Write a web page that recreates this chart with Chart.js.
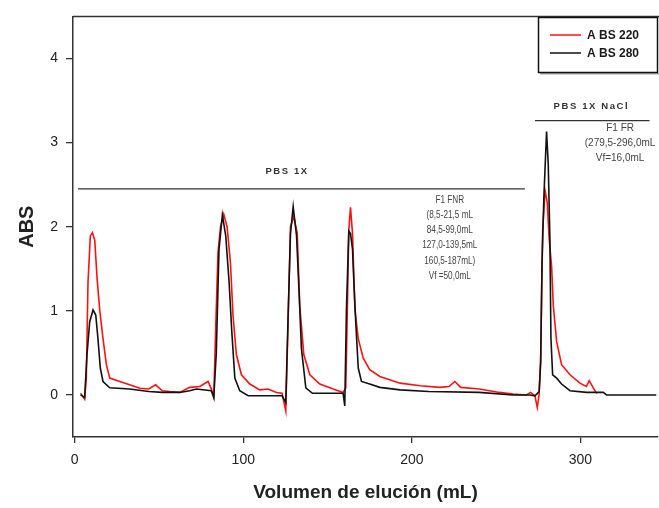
<!DOCTYPE html>
<html>
<head>
<meta charset="utf-8">
<script src="https://cdn.jsdelivr.net/npm/chart.js@4"></script>
<style>
    html, body { margin: 0; padding: 0; background: #fff; }
    #wrap { width: 659px; height: 508px; }
</style>
</head>
<body>
<div id="wrap"><canvas id="chromChart" width="659" height="508"></canvas></div>
<script>
// elution volume (mL) and absorbance
const volume220 = [3.5, 5.9, 6.9, 7.9, 9.3, 10.5, 11.9, 13.3, 14.8, 16.8, 18.8, 20.8, 26.7, 32.6, 38.6, 44, 48, 52, 56.4, 62.3, 68.2, 74.2, 79.1, 81.1, 82.5,
    83.7, 85, 86.5, 88.4, 90.4, 92.4, 93.9, 95.9, 98.9, 103.9, 109.8, 114.7, 119.7, 123, 125.2, 126.6, 128, 130, 132, 133.5, 135.9, 139.5, 145.4, 153.3,
    159.2, 160.8, 161.6, 162.6, 163.6, 164.8, 166.2, 168.2, 171.1, 175, 181, 193, 205, 216.6, 222, 225.5, 229, 240, 252, 260, 268, 270.4, 273, 274.4,
    275.5, 276.4, 277, 277.6, 279, 280.3, 281.5, 282.9, 283.9, 285.9, 288.8, 293.8, 299.7, 303.5, 305.2, 307.6, 309.2, 310];
const abs220 = [0.02, -0.05, 0.2, 1.34, 1.89, 1.93, 1.84, 1.38, 1.02, 0.67, 0.36, 0.2, 0.16, 0.12, 0.08, 0.07, 0.12, 0.05, 0.04, 0.03, 0.09, 0.1, 0.16, 0.07, -0.03,
    0.83, 1.69, 2.0, 2.15, 2.0, 1.57, 0.95, 0.48, 0.24, 0.13, 0.06, 0.07, 0.03, 0.02, -0.19, 0.87, 2.0, 2.12, 1.92, 1.06, 0.48, 0.24, 0.13, 0.07,
    0.03, 0.085, 0.87, 1.96, 2.23, 1.92, 1.02, 0.67, 0.44, 0.3, 0.22, 0.14, 0.11, 0.09, 0.1, 0.16, 0.09, 0.07, 0.03, 0.01, 0.0, 0.03, -0.01, -0.15,
    0.01, 0.4, 1.22, 1.96, 2.43, 2.29, 1.84, 1.53, 1.06, 0.63, 0.36, 0.24, 0.14, 0.1, 0.17, 0.085, 0.03, 0.02];

const volume280 = [3.5, 5.9, 7.3, 8.9, 10.9, 12.5, 13.8, 15.2, 16.8, 20.8, 32.6, 44, 52, 62.3, 68.2, 72.2, 81, 82.5, 84, 85.6, 87.6, 89.6, 91.6, 93.2, 95,
    97.9, 102.9, 123, 125.2, 126.6, 128, 129.6, 131.6, 133.1, 134.5, 137.1, 141, 159.2, 160.2, 161.2, 162.6, 163.6, 164.8, 165.6, 166.8, 168.2, 170.1,
    175, 181, 193, 210, 240, 260, 270, 273, 275.5, 276.4, 277.2, 278.3, 279.9, 280.9, 281.9, 282.5, 283.5, 285.9, 288.8, 293.8, 303.7, 313.5, 315.5, 345];
const abs280 = [0.0, -0.03, 0.48, 0.87, 1.01, 0.95, 0.67, 0.32, 0.16, 0.085, 0.07, 0.04, 0.03, 0.03, 0.05, 0.07, 0.05, -0.03, 0.5, 1.73, 2.14, 1.89, 1.34, 0.75, 0.2,
    0.05, -0.01, -0.01, -0.09, 0.95, 1.92, 2.24, 1.89, 1.22, 0.55, 0.085, 0.02, 0.02, -0.13, 1.02, 1.95, 1.92, 1.73, 1.34, 0.83, 0.32, 0.16,
    0.13, 0.09, 0.06, 0.04, 0.03, 0.0, 0.0, -0.01, 0.04, 0.4, 1.57, 2.35, 3.13, 2.74, 1.84, 0.67, 0.24, 0.2, 0.13, 0.05, 0.03, 0.03, 0.0, 0.0];

const xTicks = [0, 100, 200, 300];
const yTicks = [0, 1, 2, 3, 4];

// buffer brackets: from / to (mL) at an ABS level, label above
const bufferLabels = ['PBS 1X', 'PBS 1X NaCl'];
const bufferFrom = [2, 273];
const bufferTo = [267, 341];
const bufferLevel = [2.45, 3.26];

const fnrNote = ['F1 FNR', '(8,5-21,5 mL', '84,5-99,0mL', '127,0-139,5mL', '160,5-187mL)', 'Vf =50,0mL'];
const frNote = ['F1 FR', '(279,5-296,0mL', 'Vf=16,0mL'];

function toPoints(xs, ys) {
    return xs.map(function(x, i) { return { x: x, y: ys[i] }; });
}

const FONT = '"Liberation Sans", Arial, sans-serif';

const extrasPlugin = {
    id: 'extras',
    afterDatasetsDraw(chart) {
        const ctx = chart.ctx;
        const xs = chart.scales.x;
        const ys = chart.scales.y;
        const area = chart.chartArea;
        ctx.save();

        // top frame line
        ctx.strokeStyle = '#333';
        ctx.lineWidth = 1.5;
        ctx.beginPath();
        ctx.moveTo(area.left, area.top);
        ctx.lineTo(chart.width, area.top);
        ctx.stroke();

        // buffer brackets
        ctx.lineWidth = 1.3;
        ctx.strokeStyle = '#333';
        bufferLabels.forEach(function(lbl, i) {
            const y = ys.getPixelForValue(bufferLevel[i]);
            ctx.beginPath();
            ctx.moveTo(xs.getPixelForValue(bufferFrom[i]), y);
            ctx.lineTo(xs.getPixelForValue(bufferTo[i]), y);
            ctx.stroke();
        });
        ctx.fillStyle = '#333';
        ctx.font = 'bold 9.5px ' + FONT;
        ctx.letterSpacing = '1.6px';
        ctx.textAlign = 'center';
        ctx.textBaseline = 'middle';
        ctx.fillText(bufferLabels[0], xs.getPixelForValue(126), ys.getPixelForValue(2.66));
        ctx.fillText(bufferLabels[1], xs.getPixelForValue(306.5), ys.getPixelForValue(3.43));
        ctx.letterSpacing = '0px';

        // fraction notes
        ctx.fillStyle = '#444';
        ctx.font = '10px ' + FONT;
        const fnrX = xs.getPixelForValue(222.5);
        fnrNote.forEach(function(line, i) {
            ctx.save();
            ctx.translate(fnrX, 200 + i * 15.2);
            ctx.scale(0.82, 1);
            ctx.fillText(line, 0, 0);
            ctx.restore();
        });
        frNote.forEach(function(line, i) {
            ctx.fillText(line, xs.getPixelForValue(323.5), 128.5 + i * 14.7);
        });

        // legend box
        ctx.fillStyle = '#fff';
        ctx.fillRect(538, 17, 120, 56);
        ctx.strokeStyle = '#111';
        ctx.lineWidth = 1.5;
        ctx.strokeRect(538.5, 17.5, 119, 55);
        ctx.strokeStyle = '#666';
        ctx.lineWidth = 1;
        ctx.beginPath();
        ctx.moveTo(540, 73.8);
        ctx.lineTo(659, 73.8);
        ctx.stroke();

        const order = [0, 1];
        ctx.font = 'bold 12px ' + FONT;
        ctx.textAlign = 'left';
        order.forEach(function(di, i) {
            const ds = chart.data.datasets[di];
            const y = 35 + i * 18;
            ctx.strokeStyle = ds.borderColor;
            ctx.lineWidth = 1.5;
            ctx.beginPath();
            ctx.moveTo(550, y);
            ctx.lineTo(581, y);
            ctx.stroke();
            ctx.fillStyle = '#1a1a1a';
            ctx.fillText(ds.label, 587, y + 1);
        });
        ctx.restore();
    }
};

document.addEventListener('DOMContentLoaded', function() {
    const ctx = document.getElementById('chromChart');

    const chart = new Chart(ctx, {
        type: 'line',
        data: {
            datasets: [{
                label: 'A BS 220',
                data: toPoints(volume220, abs220),
                borderColor: '#ff1010',
                borderWidth: 1.6,
                pointRadius: 0,
                tension: 0,
                fill: false,
                order: 2
            }, {
                label: 'A BS 280',
                data: toPoints(volume280, abs280),
                borderColor: '#111111',
                borderWidth: 1.6,
                pointRadius: 0,
                tension: 0,
                fill: false,
                order: 1
            }]
        },
        options: {
            responsive: false,
            animation: false,
            devicePixelRatio: 1,
            layout: { padding: { top: 11, right: 1, left: 0, bottom: 0 } },
            plugins: {
                legend: { display: false },
                tooltip: { enabled: false }
            },
            scales: {
                x: {
                    type: 'linear',
                    min: -1,
                    max: 346,
                    afterBuildTicks: function(scale) {
                        scale.ticks = xTicks.map(function(v) { return { value: v }; });
                    },
                    afterFit: function(scale) { scale.height = 71; },
                    border: { display: true, color: '#333', width: 1.5 },
                    grid: { drawOnChartArea: false, drawTicks: true, tickLength: 6, color: '#333', lineWidth: 1.3 },
                    ticks: { color: '#222', padding: 9, font: { family: FONT, size: 14 } },
                    title: {
                        display: true,
                        text: 'Volumen de elución (mL)',
                        color: '#222',
                        font: { family: FONT, size: 19, weight: 'bold' },
                        padding: { top: 0, bottom: 4 }
                    }
                },
                y: {
                    type: 'linear',
                    min: -0.5,
                    max: 4.5,
                    afterBuildTicks: function(scale) {
                        scale.ticks = yTicks.map(function(v) { return { value: v }; });
                    },
                    afterFit: function(scale) { scale.width = 73; },
                    border: { display: true, color: '#333', width: 1.5 },
                    grid: { drawOnChartArea: false, drawTicks: true, tickLength: 7, color: '#333', lineWidth: 1.3 },
                    ticks: { color: '#222', padding: 8, font: { family: FONT, size: 14 } },
                    title: {
                        display: true,
                        text: 'ABS',
                        color: '#222',
                        font: { family: FONT, size: 20, weight: 'bold' },
                        padding: { top: 15, bottom: 0 }
                    }
                }
            }
        },
        plugins: [extrasPlugin]
    });
});
</script>
</body>
</html>
